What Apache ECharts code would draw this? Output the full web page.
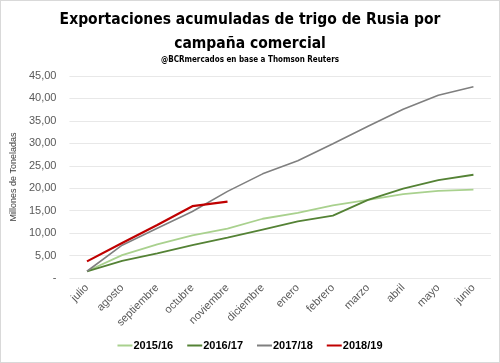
<!DOCTYPE html>
<html><head><meta charset="utf-8">
<script src="https://cdn.jsdelivr.net/npm/echarts@6/dist/echarts.min.js"></script>
<style>html,body{margin:0;padding:0;background:#fff}#c{width:498px;height:361px;border:1px solid #d9d9d9}</style>
</head><body><div id="c"></div>
<script>
const months = ['julio','agosto','septiembre','octubre','noviembre','diciembre','enero','febrero','marzo','abril','mayo','junio'];
const s1516 = [1.5,5.1,7.5,9.5,11.0,13.2,14.5,16.2,17.4,18.7,19.4,19.7];
const s1617 = [1.5,3.8,5.5,7.3,9.0,10.8,12.6,13.9,17.4,19.9,21.8,23.0];
const s1718 = [1.5,7.3,11.1,14.8,19.3,23.2,26.1,29.9,33.8,37.6,40.7,42.6];
const s1819 = [3.7,7.8,11.8,16.0,17.0];
const names = ['2015/16','2016/17','2017/18','2018/19'];
const colors = ['#a9d18e','#548235','#7f7f7f','#c00000'];
const chart = echarts.init(document.getElementById('c'));
const mk = (i, d, w) => ({name: names[i], type: 'line', data: d, symbol: 'none', lineStyle: {width: w, color: colors[i]}, itemStyle: {color: colors[i]}});
chart.setOption({
  animation: false,
  title: {
    text: 'Exportaciones acumuladas de trigo de Rusia por\ncampaña comercial',
    subtext: '@BCRmercados en base a Thomson Reuters',
    left: 'center', top: 2, itemGap: 0,
    textStyle: {fontFamily: 'DejaVu Sans Condensed', fontWeight: 'bold', fontSize: 15.5, lineHeight: 24, color: '#000'},
    subtextStyle: {fontFamily: 'DejaVu Sans Condensed', fontWeight: 'bold', fontSize: 8, color: '#000'}
  },
  legend: {
    bottom: 6, left: 'center', itemWidth: 15, itemHeight: 2, itemGap: 14,
    icon: 'rect',
    textStyle: {fontFamily: 'Liberation Sans', fontWeight: 'bold', fontSize: 11, color: '#000', padding: [0,0,0,-4]}
  },
  grid: {left: 66, right: 8, top: 75, bottom: 84},
  xAxis: {
    type: 'category', data: months, boundaryGap: true,
    axisLine: {show: false}, axisTick: {show: false},
    axisLabel: {rotate: 45, fontSize: 11, color: '#595959', fontFamily: 'Liberation Sans', margin: 8, interval: 0}
  },
  yAxis: {
    type: 'value', min: 0, max: 45, interval: 5,
    name: 'Millones de Toneladas', nameLocation: 'middle', nameGap: 46,
    nameTextStyle: {fontSize: 9, color: '#404040', fontFamily: 'Liberation Sans'},
    axisLabel: {fontSize: 11, color: '#595959', fontFamily: 'Liberation Sans', margin: 13,
      formatter: v => v === 0 ? '-' : v.toFixed(2).replace('.', ',')},
    splitLine: {lineStyle: {color: '#e8e8e8', width: 1}}
  },
  series: [mk(0, s1516, 1.8), mk(1, s1617, 1.8), mk(2, s1718, 1.6), mk(3, s1819, 2.2)]
});
</script></body></html>
